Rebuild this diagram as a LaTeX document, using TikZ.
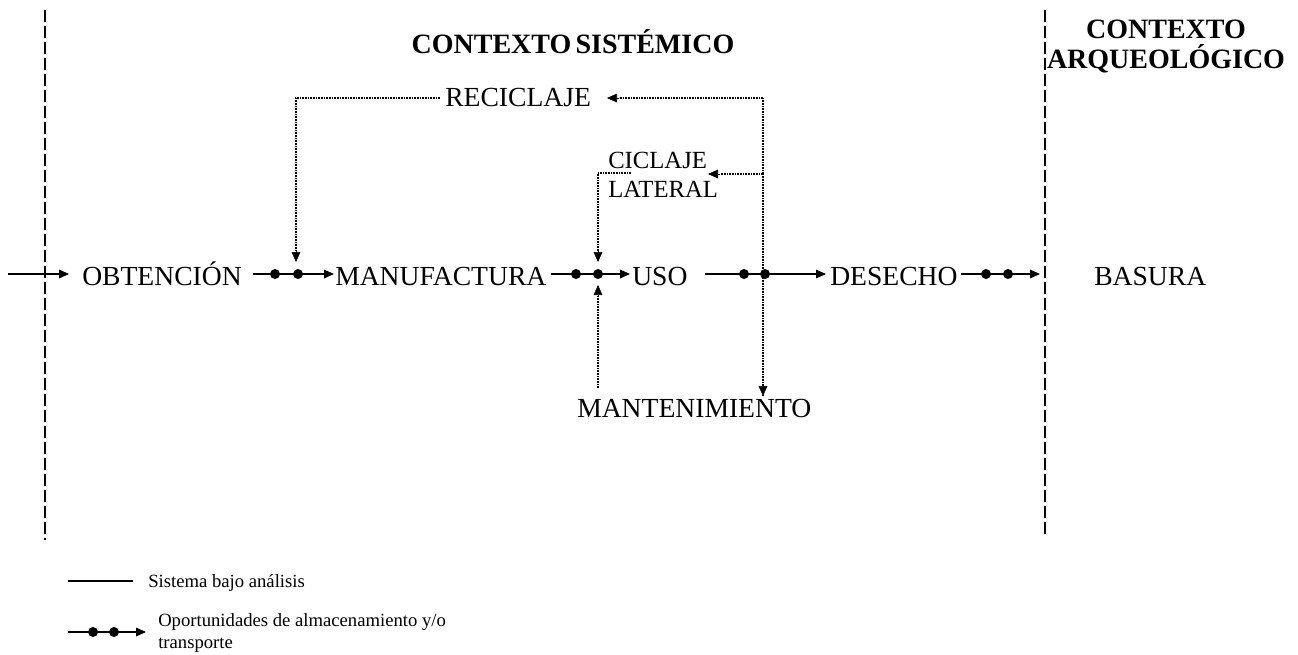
\documentclass[tikz,border=0pt]{standalone}
\usepackage{fontspec}
\setmainfont{Liberation Serif}
\usetikzlibrary{arrows.meta}
\begin{document}
\begin{tikzpicture}[x=0.75pt,y=-0.75pt,
  lbl/.style={inner sep=0pt, anchor=base west, font=\fontsize{20.7}{24}\selectfont},
  sublbl/.style={inner sep=0pt, anchor=base west, font=\fontsize{18.5}{22}\selectfont},
  hdr/.style={inner sep=0pt, anchor=base, font=\bfseries\fontsize{21}{24}\selectfont},
  leg/.style={inner sep=0pt, anchor=base west, font=\fontsize{14}{16}\selectfont},
  bound/.style={dash pattern=on 9pt off 3pt, line width=0.9pt},
  tip/.style={-{Triangle[length=7.5pt,width=6.5pt]}},
  flow/.style={line width=0.8pt, tip},
  loopline/.style={dash pattern=on 0.6pt off 0.6pt, line width=0.9pt},
  dotnode/.style={circle, fill, inner sep=0pt, minimum size=7.5pt}]
\useasboundingbox (0,0) rectangle (1298,654);

% boundaries
\coordinate (b1t) at (45,10);
\coordinate (b1b) at (45,540);
\coordinate (b2t) at (1045,10);
\coordinate (b2b) at (1045,535);
\draw[bound] (b1t) -- (b1b);
\draw[bound] (b2t) -- (b2b);

% headers
\node[hdr] (hsis) at (573,53) {CONTEXTO\hspace{-0.1em} SISTÉMICO};
\node[hdr] (harq1) at (1166,38) {CONTEXTO};
\node[hdr] (harq2) at (1166,68) {ARQUEOLÓGICO};

% main row labels
\node[lbl] (obt) at (82,285) {OBTENCIÓN};
\node[lbl] (man) at (335,285) {MANUFACTURA};
\node[lbl] (uso) at (632,285) {USO};
\node[lbl] (des) at (830,285) {DESECHO};
\node[lbl] (bas) at (1094,285) {BASURA};
\node[lbl] (rec) at (445,106) {RECICLAJE};
\node[sublbl] (cic1) at (608,168) {CICLAJE};
\node[sublbl] (cic2) at (608,197) {LATERAL};
\node[lbl] (mant) at (577,417) {MANTENIMIENTO};

% row coordinates
\coordinate (in0) at (8,274);
\coordinate (in1) at (69,274);
\coordinate (c1a) at (253,274);
\coordinate (c1b) at (334,274);
\node[dotnode] (d1a) at (275,274) {};
\node[dotnode] (d1b) at (298,274) {};
\coordinate (c2a) at (551,274);
\coordinate (c2b) at (630,274);
\node[dotnode] (d2a) at (576,274) {};
\node[dotnode] (d2b) at (598,274) {};
\coordinate (c3a) at (705,274);
\coordinate (c3b) at (826,274);
\node[dotnode] (d3a) at (744,274) {};
\node[dotnode] (d3b) at (765,274) {};
\coordinate (c4a) at (961,274);
\coordinate (c4b) at (1040,274);
\node[dotnode] (d4a) at (986,274) {};
\node[dotnode] (d4b) at (1008,274) {};

\draw[flow] (in0) -- (in1);
\draw[flow] (c1a) -- (c1b);
\draw[flow] (c2a) -- (c2b);
\draw[flow] (c3a) -- (c3b);
\draw[flow] (c4a) -- (c4b);

% loops
\coordinate (vtop) at (763,98);
\coordinate (vmid) at (763,174);
\coordinate (vbot) at (763,396);
\coordinate (rtip) at (607,98);
\coordinate (ctip) at (708,174);
\coordinate (rl0) at (440,98);
\coordinate (rl1) at (296,98);
\coordinate (rl2) at (296,262);
\coordinate (cl0) at (631,173);
\coordinate (cl1) at (598,173);
\coordinate (cl2) at (598,262);
\coordinate (ml0) at (598,388);
\coordinate (ml1) at (598,285);

\draw[loopline] (vtop) -- (vmid);
\draw[loopline] (vmid) -- (vbot);
\draw[tip] (763,386) -- (vbot);
\draw[loopline] (vtop) -- (619,98);
\draw[tip] (619,98) -- (rtip);
\draw[loopline] (vmid) -- (720,174);
\draw[tip] (720,174) -- (ctip);
\draw[loopline] (rl0) -- (rl1) -- (296,252);
\draw[tip] (296,251) -- (rl2);
\draw[loopline] (cl0) -- (cl1) -- (598,252);
\draw[tip] (598,251) -- (cl2);
\draw[loopline] (ml0) -- (598,296);
\draw[tip] (598,297) -- (ml1);

% legend
\coordinate (l1a) at (68,581);
\coordinate (l1b) at (133,581);
\draw[line width=0.8pt] (l1a) -- (l1b);
\node[leg] (leg1) at (148,587) {Sistema bajo análisis};
\coordinate (l2a) at (68,632);
\coordinate (l2b) at (146,632);
\node[dotnode] (ld1) at (93,632) {};
\node[dotnode] (ld2) at (114,632) {};
\draw[flow] (l2a) -- (l2b);
\node[leg] (leg2) at (158,626) {Oportunidades de almacenamiento y/o};
\node[leg] (leg3) at (158,648) {transporte};
\end{tikzpicture}
\end{document}
